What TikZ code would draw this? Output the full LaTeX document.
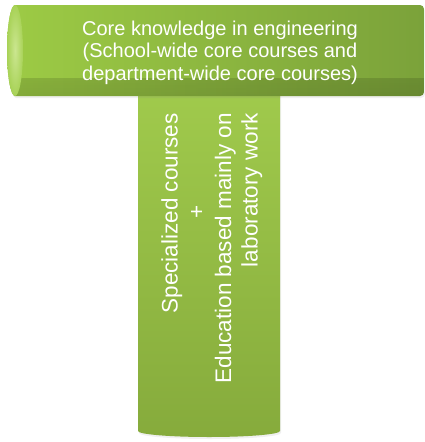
\documentclass[tikz,border=0pt]{standalone}
\usepackage{fontspec}
\setmainfont{Liberation Sans}
\usetikzlibrary{shadows,fadings}

\definecolor{barL}{HTML}{9DCB45}
\definecolor{barR}{HTML}{7BA23A}
\definecolor{stemT}{HTML}{A0CA4C}
\definecolor{stemB}{HTML}{86AB3C}
\definecolor{capI}{HTML}{CBE690}
\definecolor{capO}{HTML}{A8D257}

\begin{document}
\begin{tikzpicture}[
    x=1pt, y=-1pt,
    every node/.style={text=white, inner sep=0pt},
    bartxt/.style={font=\fontsize{20}{22.5}\selectfont, align=center},
    stemtxt/.style={font=\fontsize{22.5}{26.5}\selectfont, rotate=90, anchor=base east},
    soft/.style={drop shadow={opacity=0.12, shadow xshift=1pt, shadow yshift=-2pt}}
  ]
  \useasboundingbox (0,0) rectangle (425,442);

  % vertical cylinder
  \path[top color=stemT, bottom color=stemB, soft]
    (138,90) -- (138,431) arc[start angle=180, end angle=360, x radius=71pt, y radius=6pt]
    -- (280,90) -- cycle;

  % horizontal cylinder
  \path[left color=barL, right color=barR, soft,
        path picture={\fill[black, opacity=0.16, path fading=north] (0,78) rectangle (425,97);}]
    (15,5) [rounded corners=4pt] -- (424,5) -- (424,96) [sharp corners] -- (15,96)
    arc[start angle=270, end angle=90, x radius=8pt, y radius=45.5pt] -- cycle;
  \shade[inner color=capI, outer color=capO] (15,50.5) ellipse [x radius=8pt, y radius=45.5pt];

  \node[bartxt] (core) at (220,52.5) {Core knowledge in engineering\\(School-wide core courses and\\department-wide core courses)};

  \node[stemtxt] (spec) at (177.5,113) {Specialized courses};
  \node[stemtxt, anchor=base] (plus) at (204,212) {+};
  \node[stemtxt] (edu) at (231,113) {Education based mainly on};
  \node[stemtxt] (lab) at (257.5,113) {laboratory work};
\end{tikzpicture}
\end{document}
